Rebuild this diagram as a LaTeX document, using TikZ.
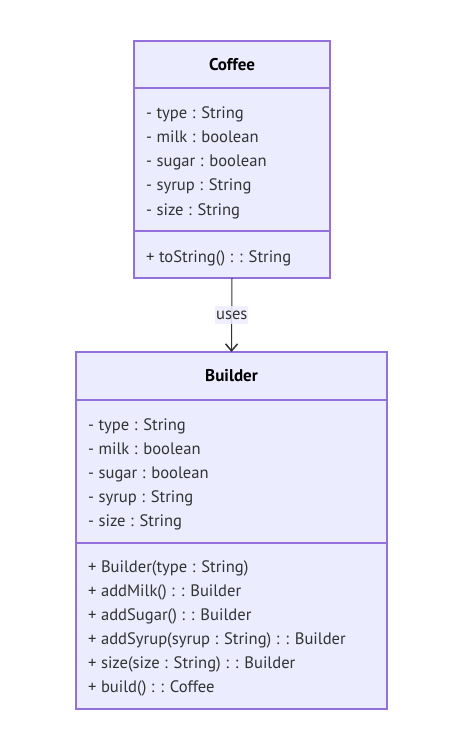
\documentclass[tikz,border=0pt]{standalone}
\usepackage{fontspec}
\setmainfont{PT Sans}
\usetikzlibrary{positioning,arrows.meta}
\definecolor{classfill}{HTML}{ECECFF}
\definecolor{classline}{HTML}{9370DB}
\definecolor{ink}{HTML}{333333}
\begin{document}
\begin{tikzpicture}[x=1pt,y=-1pt,>={Straight Barb[length=7pt,width=12pt,line width=1.5pt]}]
    % styles
    \tikzset{part/.style={draw=classline,fill=classfill,line width=1.2pt,inner sep=0pt,outer sep=0pt,text=black},
             member/.style={anchor=base west,inner sep=0pt,font=\fontsize{16.6}{18}\selectfont,text=ink},
             title/.style={font=\fontsize{17}{18}\selectfont\bfseries}}
    \useasboundingbox (0,0) rectangle (452,735);

    % Coffee
    \node[part,title,minimum width=196pt,minimum height=47pt,anchor=north west] (coffeeHead) at (134,41) {Coffee};
    \node[part,minimum width=196pt,minimum height=143pt,below=0pt of coffeeHead] (coffeeAttr) {};
    \node[part,minimum width=196pt,minimum height=47pt,below=0pt of coffeeAttr] (coffeeOps) {};
    \foreach \t [count=\i] in {- type : String,- milk : boolean,- sugar : boolean,- syrup : String,- size : String}
        \node[member] (coffeeAttr\i) at (146,95+24*\i) {\t};
    \node[member] (coffeeOp1) at (146,262) {+ toString() : : String};

    % Builder
    \node[part,title,minimum width=311pt,minimum height=48pt,anchor=north west] (builderHead) at (76,352) {Builder};
    \node[part,minimum width=311pt,minimum height=143pt,below=0pt of builderHead] (builderAttr) {};
    \node[part,minimum width=311pt,minimum height=166pt,below=0pt of builderAttr] (builderOps) {};
    \foreach \t [count=\i] in {- type : String,- milk : boolean,- sugar : boolean,- syrup : String,- size : String}
        \node[member] (builderAttr\i) at (88,406+24*\i) {\t};
    \foreach \t [count=\i] in {+ Builder(type : String),+ addMilk() : : Builder,+ addSugar() : : Builder,
                               + addSyrup(syrup : String) : : Builder,+ size(size : String) : : Builder,+ build() : : Coffee}
        \node[member] (builderOp\i) at (88,548+24*\i) {\t};

    % association
    \draw[->,draw=ink,line width=1pt] (coffeeOps.south) -- node[fill=classfill,opacity=.85,text opacity=1,text=ink,
        font=\fontsize{16.6}{18}\selectfont,inner xsep=1pt,inner ysep=5pt] (usesLabel) {uses} (builderHead.north);
\end{tikzpicture}
\end{document}
